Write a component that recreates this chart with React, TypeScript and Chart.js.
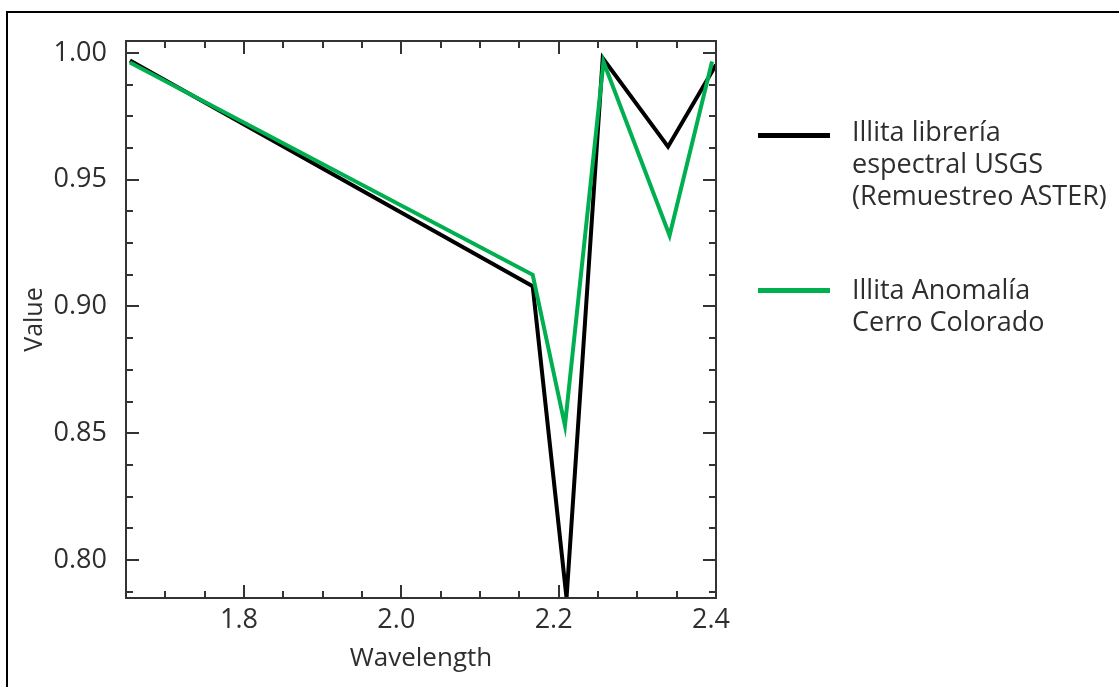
import React, { useEffect, useRef } from 'react';
import { Chart, registerables } from 'chart.js';

Chart.register(...registerables);

// ---- data ----
const seriesNames = [
  'Illita librería espectral USGS (Remuestreo ASTER)',
  'Illita Anomalía Cerro Colorado',
];
const legendLines = [
  ['Illita librería', 'espectral USGS', '(Remuestreo ASTER)'],
  ['Illita Anomalía', 'Cerro Colorado'],
];
const wavelengthUSGS = [1.655, 2.167, 2.21, 2.256, 2.339, 2.4];
const valueUSGS = [0.997, 0.908, 0.785, 0.998, 0.963, 0.9953];
const wavelengthAnomaly = [1.655, 2.167, 2.208, 2.257, 2.341, 2.395];
const valueAnomaly = [0.9962, 0.9125, 0.853, 0.9965, 0.928, 0.9966];

const xTickValues = [1.8, 2.0, 2.2, 2.4];
const xMinorTicks = [1.65, 1.7, 1.75, 1.85, 1.9, 1.95, 2.05, 2.1, 2.15, 2.25, 2.3, 2.35];
const yTickValues = [0.8, 0.85, 0.9, 0.95, 1.0];
const yMinorTicks = [0.7875, 0.8125, 0.825, 0.8375, 0.8625, 0.875, 0.8875, 0.9125, 0.925, 0.9375, 0.9625, 0.975, 0.9875];

const colors = ['#000000', '#00b050'];
const axisColor = '#333333';
const textColor = '#2e2e2e';
const fontFamily = '"Open Sans", "Noto Sans", sans-serif';

const frameTicks = {
  id: 'frameTicks',
  afterDatasetsDraw(chart: any) {
    const { ctx, chartArea, scales } = chart;
    const { left, right, top, bottom } = chartArea;
    const x = scales.x;
    const y = scales.y;
    ctx.save();
    ctx.strokeStyle = axisColor;
    ctx.lineWidth = 2;
    ctx.lineCap = 'butt';
    ctx.beginPath();
    const drawX = (v: number, len: number) => {
      const px = Math.round(x.getPixelForValue(v));
      ctx.moveTo(px, bottom);
      ctx.lineTo(px, bottom - len);
      ctx.moveTo(px, top);
      ctx.lineTo(px, top + len);
    };
    const drawY = (v: number, len: number) => {
      const py = Math.round(y.getPixelForValue(v));
      ctx.moveTo(left, py);
      ctx.lineTo(left + len, py);
      ctx.moveTo(right, py);
      ctx.lineTo(right - len, py);
    };
    xTickValues.forEach((v) => drawX(v, 13));
    xMinorTicks.forEach((v) => drawX(v, 7));
    yTickValues.forEach((v) => drawY(v, 13));
    yMinorTicks.forEach((v) => drawY(v, 7));
    ctx.stroke();
    ctx.strokeRect(left, top, right - left, bottom - top);
    ctx.restore();
  },
};

export default function App() {
  const canvasRef = useRef<HTMLCanvasElement | null>(null);

  useEffect(() => {
    const canvas = canvasRef.current;
    if (!canvas) return;
    const chart = new Chart(canvas, {
      type: 'line',
      data: {
        datasets: [
          {
            label: seriesNames[1],
            data: wavelengthAnomaly.map((w, i) => ({ x: w, y: valueAnomaly[i] })),
            borderColor: colors[1],
            backgroundColor: colors[1],
            borderWidth: 4,
            pointRadius: 0,
            tension: 0,
            borderJoinStyle: 'miter',
            order: 1,
          },
          {
            label: seriesNames[0],
            data: wavelengthUSGS.map((w, i) => ({ x: w, y: valueUSGS[i] })),
            borderColor: colors[0],
            backgroundColor: colors[0],
            borderWidth: 4,
            pointRadius: 0,
            tension: 0,
            borderJoinStyle: 'miter',
            order: 2,
          },
        ],
      },
      options: {
        responsive: false,
        animation: false,
        devicePixelRatio: 1,
        events: [],
        layout: { padding: { left: 0, top: 41, right: 403, bottom: 0 } },
        plugins: {
          legend: { display: false },
          tooltip: { enabled: false },
        },
        scales: {
          x: {
            type: 'linear',
            min: 1.65,
            max: 2.4,
            grid: { display: false, drawTicks: false },
            border: { display: false },
            afterFit: (s: any) => {
              s.height = 89;
            },
            afterBuildTicks: (s: any) => {
              s.ticks = xTickValues.map((v) => ({ value: v }));
            },
            ticks: {
              padding: 6,
              labelOffset: -5,
              color: textColor,
              font: { family: fontFamily, size: 27 },
              callback: (v: any) => Number(v).toFixed(1),
              maxRotation: 0,
            },
            title: {
              display: true,
              text: 'Wavelength',
              color: textColor,
              font: { family: fontFamily, size: 26 },
              padding: { top: 0, bottom: 13 },
            },
          },
          y: {
            type: 'linear',
            min: 0.785,
            max: 1.0047,
            grid: { display: false, drawTicks: false },
            border: { display: false },
            afterFit: (s: any) => {
              s.width = 126;
            },
            afterBuildTicks: (s: any) => {
              s.ticks = yTickValues.map((v) => ({ value: v }));
            },
            ticks: {
              padding: 19,
              color: textColor,
              font: { family: fontFamily, size: 27 },
              callback: (v: any) => Number(v).toFixed(2),
            },
            title: {
              display: true,
              text: 'Value',
              color: textColor,
              font: { family: fontFamily, size: 25 },
              padding: { top: 20, bottom: 0 },
            },
          },
        },
      },
      plugins: [frameTicks],
    } as any);
    return () => chart.destroy();
  }, []);

  const legendTops = [115, 273];
  const swatchTops = [133, 288];

  return (
    <div
      style={{
        position: 'absolute',
        left: 0,
        top: 0,
        width: 1119,
        height: 687,
        overflow: 'hidden',
        background: '#ffffff',
      }}
    >
      <canvas
        ref={canvasRef}
        width={1119}
        height={687}
        style={{ position: 'absolute', left: 0, top: 0, width: 1119, height: 687, display: 'block' }}
      />
      <div
        style={{
          position: 'absolute',
          left: 6,
          top: 11,
          width: 1300,
          height: 900,
          borderLeft: '2px solid #000',
          borderTop: '2px solid #000',
          pointerEvents: 'none',
        }}
      />
      {legendLines.map((lines, i) => (
        <React.Fragment key={i}>
          <div
            style={{
              position: 'absolute',
              left: 758,
              top: swatchTops[i],
              width: 72,
              height: 5,
              background: colors[i],
            }}
          />
          <div
            style={{
              position: 'absolute',
              left: 852,
              top: legendTops[i],
              fontFamily,
              fontSize: 27,
              lineHeight: '32px',
              color: textColor,
              whiteSpace: 'nowrap',
            }}
          >
            {lines.map((t, j) => (
              <div key={j}>{t}</div>
            ))}
          </div>
        </React.Fragment>
      ))}
    </div>
  );
}
